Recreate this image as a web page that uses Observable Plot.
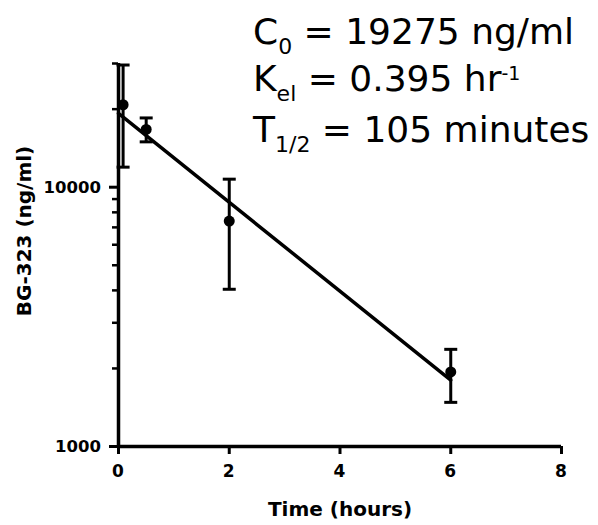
<!DOCTYPE html>
<html><head><meta charset="utf-8">
<script src="https://cdn.jsdelivr.net/npm/d3@7"></script>
<script src="https://cdn.jsdelivr.net/npm/@observablehq/plot@0.6"></script>
<style>
body{margin:0;background:#fff;}
#chart{width:598px;height:525px;}
</style></head><body><div id="chart"></div>
<script>
// Observed mean concentrations with error bars
const time = [0.083, 0.5, 2, 6];
const conc = [20800, 16700, 7400, 1940];
const concLow = [11950, 14960, 4040, 1480];
const concHigh = [29600, 18500, 10740, 2370];
// Mono-exponential fit endpoints (C0 = 19275, Kel = 0.395)
const fitTime = [0, 6];
const fitConc = [19275, 1802];
// Ticks
const xTicks = [0, 2, 4, 6, 8];
const yMajor = [1000, 10000];
const yMinor = [2000, 3000, 4000, 5000, 6000, 7000, 8000, 9000, 20000, 30000];
const xLabel = "Time (hours)";
const yLabel = "BG-323 (ng/ml)";
// Annotation lines
const annoMain = ["C", "K", "T"];
const annoScript = ["0", "el", "1/2"];
const annoRest = [" = 19275 ng/ml", " = 0.395 hr", " = 105 minutes"];
const annoSup = ["", "-1", ""];

const points = time.map((t, i) => ({t, c: conc[i], lo: concLow[i], hi: concHigh[i]}));
const fit = fitTime.map((t, i) => ({t, c: fitConc[i]}));

const capSymbol = {draw(ctx, size) { const r = Math.sqrt(size / Math.PI); ctx.moveTo(-r, 0); ctx.lineTo(r, 0); }};
const font = "DejaVu Sans, Verdana, sans-serif";

const plot = Plot.plot({
  width: 598, height: 525,
  marginLeft: 118, marginRight: 37, marginTop: 63, marginBottom: 79,
  style: {fontFamily: font, fontWeight: "bold", color: "#000", background: "#fff"},
  x: {domain: [0, 8], label: null},
  y: {type: "log", domain: [1000, 30000], label: null},
  marks: [
    Plot.axisX({ticks: xTicks, tickSize: 8, strokeWidth: 3, tickFormat: () => ""}),
    Plot.axisY({ticks: yMajor, tickSize: 9, strokeWidth: 3, tickFormat: () => ""}),
    Plot.axisY({ticks: yMinor, tickSize: 6, strokeWidth: 2.5, tickFormat: () => ""}),
    Plot.ruleX([0], {strokeWidth: 3.5}),
    Plot.ruleY([1000], {strokeWidth: 3.5}),
    Plot.line(fit, {x: "t", y: "c", strokeWidth: 3.5, stroke: "#000"}),
    Plot.ruleX(points, {x: "t", y1: "lo", y2: "hi", strokeWidth: 3, stroke: "#000"}),
    Plot.dot(points, {x: "t", y: "lo", symbol: capSymbol, r: 6.5, stroke: "#000", strokeWidth: 3}),
    Plot.dot(points, {x: "t", y: "hi", symbol: capSymbol, r: 6.5, stroke: "#000", strokeWidth: 3}),
    Plot.dot(points, {x: "t", y: "c", r: 5.5, fill: "#000"}),
    Plot.text([xLabel], {frameAnchor: "bottom", dy: 69, fontSize: 20, fontWeight: "bold", fill: "#000"}),
    Plot.text([yLabel], {frameAnchor: "left", textAnchor: "middle", rotate: -90, dx: -94, dy: -24, fontSize: 20, fontWeight: "bold", fill: "#000"})
  ]
});
document.getElementById("chart").appendChild(plot);

const svg = d3.select(plot);
const sx = plot.scale("x"), sy = plot.scale("y");
const y0 = sy.apply(yMajor[0]);
const x0 = sx.apply(0);

// Tick labels drawn through the plot's own scales
const tl = svg.append("g").attr("font-family", font).attr("font-weight", "bold").attr("fill", "#000");
xTicks.forEach(d => {
  tl.append("text").attr("x", sx.apply(d)).attr("y", y0 + 31)
    .attr("text-anchor", "middle").attr("font-size", 17).style("font-size", "17px").text(String(d));
});
yMajor.forEach(d => {
  tl.append("text").attr("x", x0 - 17).attr("y", sy.apply(d) + 6)
    .attr("text-anchor", "end").attr("font-size", 16.5).style("font-size", "16.5px").text(String(d));
});

// Annotation block (top right)
const baselines = [44, 91, 142];
annoMain.forEach((m, i) => {
  const t = svg.append("text").attr("x", 253).attr("y", baselines[i])
    .attr("text-anchor", "start")
    .attr("font-size", 36).attr("font-weight", "normal").attr("fill", "#000")
    .style("font-family", "DejaVu Sans, sans-serif");
  t.append("tspan").text(m);
  t.append("tspan").attr("font-size", 22).attr("dy", 10).text(annoScript[i]);
  t.append("tspan").attr("dy", -10).text(annoRest[i]);
  if (annoSup[i]) t.append("tspan").attr("font-size", 19).attr("dy", -11).text(annoSup[i]);
});
</script>
</body></html>
